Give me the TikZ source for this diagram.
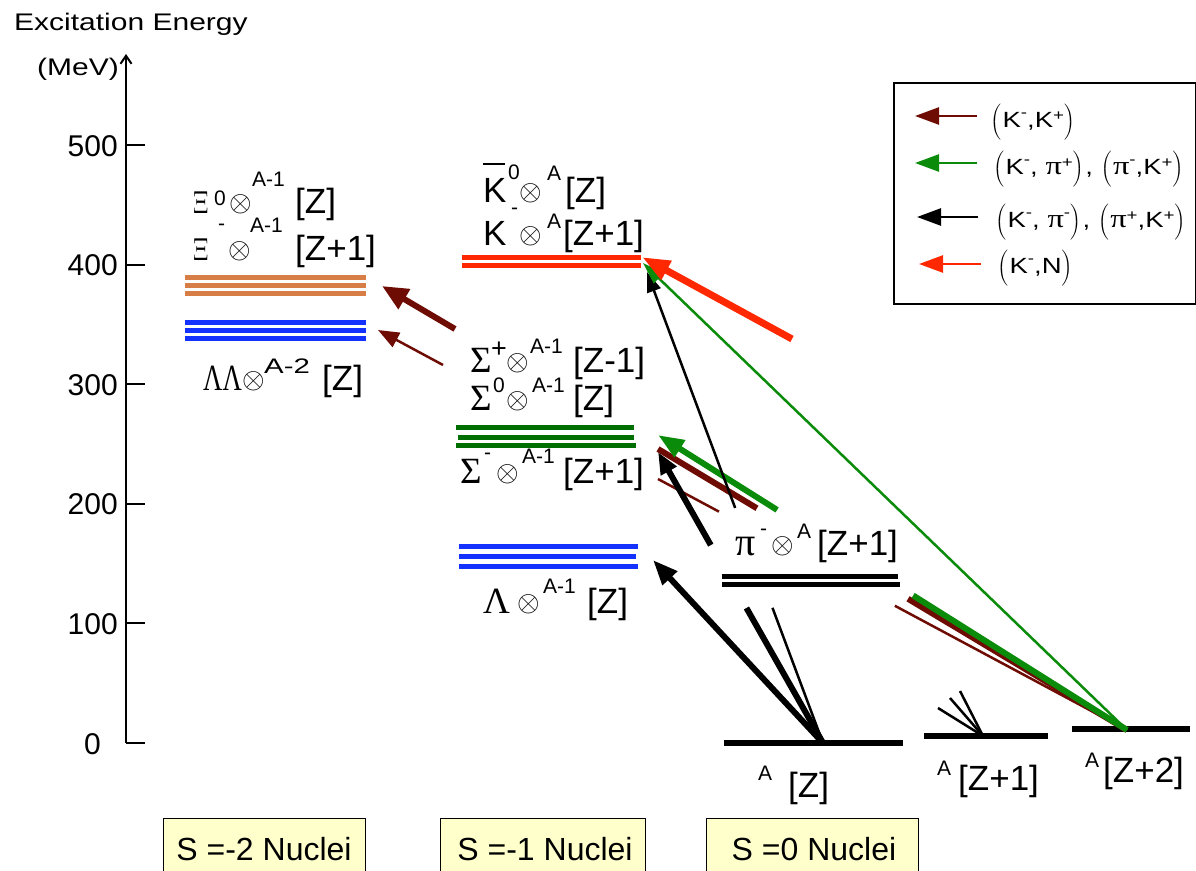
\documentclass[tikz,border=0pt]{standalone}
\usepackage{fontspec}
\usepackage{graphicx}
\setmainfont{Liberation Sans}
\newfontfamily\grf{Liberation Serif}
\usetikzlibrary{arrows.meta,calc}
\definecolor{brn}{RGB}{110,12,4}
\definecolor{grn}{RGB}{10,140,10}
\definecolor{dgrn}{RGB}{0,110,0}
\definecolor{rd}{RGB}{255,40,0}
\definecolor{orng}{RGB}{215,125,70}
\definecolor{blu}{RGB}{20,50,255}
\definecolor{boxy}{RGB}{255,255,204}
\newcommand\fs[1]{\fontsize{#1}{#1}\selectfont}
\newcommand\ox{\raisebox{2pt}{{\fs{10}\scalebox{2.9}{$\otimes$}}}}
\newcommand\sy[2]{\raisebox{#1pt}{\fs{21}#2}}
\newcommand\g[1]{{\grf\fs{37}#1}}
\newcommand\xig{{\fs{10}\scalebox{2.3}[3.2]{$\Xi$}}}
\newcommand\pc[2]{\rlap{\hspace*{#1pt}#2}}
\newcommand\ls[2]{\raisebox{#1pt}{\fs{15}#2}}
\newcommand\lp{$\left(\vrule height 25pt depth 11pt width 0pt\right.$}
\newcommand\rp{$\left)\vrule height 25pt depth 11pt width 0pt\right.$}
\newcommand\gp{{\grf\fs{26}π}}
\begin{document}
\begin{tikzpicture}[x=1pt,y=-1pt,
  lab/.style={inner sep=0pt,anchor=base west,font=\fs{35}},
  ticklab/.style={inner sep=0pt,anchor=base east,font=\fs{30}},
  leg/.style={inner sep=0pt,anchor=base west,font=\fs{22}},
  lvl/.style={line width=5pt},
  gnd/.style={line width=6pt},
  thk/.style={line width=6pt},
  thn/.style={line width=2.5pt},
  legtip/.style={line width=2.5pt,-{Triangle[length=24pt,width=17pt]}},
  nbox/.style={draw=black,line width=1.2pt,fill=boxy,inner sep=0pt,anchor=north west},
  boxtxt/.style={inner sep=0pt,anchor=base,font=\fs{32}}
]
\useasboundingbox (0,0) rectangle (1196,870);

% axis
\node[inner sep=0pt,anchor=base west] (ttl) at (14,30) {\scalebox{1.25}[1]{\fs{24}Excitation Energy}};
\node[inner sep=0pt,anchor=base west] (mev) at (37,75) {\scalebox{1.25}[1]{\fs{24}(MeV)}};
\coordinate (ax0) at (126,743);
\coordinate (axt) at (126,54);
\draw[line width=2pt,-{Straight Barb[length=8pt,width=11pt]}] (ax0) -- (axt);
\foreach \v/\yy in {100/623.4,200/503.8,300/384.2,400/264.6,500/145}{
  \draw[line width=2pt] (126,\yy) -- (145,\yy);
  \node[ticklab] (t\v) at (118,\yy+11) {\v};
}
\draw[line width=2pt] (126,743) -- (145,743);
\node[ticklab] (t0) at (101,754) {0};

% S=-2 levels
\foreach \yy in {277,285,293}{\draw[lvl,orng] (185,\yy) -- (366,\yy);}
\foreach \yy in {322,330,338}{\draw[lvl,blu] (185,\yy) -- (366,\yy);}
\node[lab] (xi0) at (193,213) {\pc{0}{\xig}\pc{21}{\sy{8}{0}}\pc{36}{\ox}\pc{59}{\sy{27}{A-1}}\hspace*{102pt}[Z]};
\node[lab] (xim) at (193,260) {\pc{0}{\xig}\pc{25}{\sy{30}{-}}\pc{35}{\ox}\pc{57}{\sy{28}{A-1}}\hspace*{102pt}[Z+1]};
\node[lab] (ll) at (203,390) {\pc{0}{\scalebox{0.72}[1]{\g{ΛΛ}}}\pc{39}{\ox}\pc{61}{\sy{17}{\scalebox{1.4}[1]{A-2}}}\hspace*{119pt}[Z]};

% S=-1 levels
\draw[lvl,rd] (462,257) -- (641,257);
\draw[lvl,rd] (462,265) -- (641,265);
\draw[lvl,dgrn] (456,427) -- (634,427);
\draw[lvl,dgrn] (458,437) -- (634,437);
\draw[lvl,dgrn] (456,445) -- (636,445);
\draw[lvl,blu] (459,546) -- (638,546);
\draw[lvl,blu] (459,556) -- (636,556);
\draw[lvl,blu] (459,566) -- (638,566);
\node[lab] (kb) at (483,202) {\pc{0}{\rule[37pt]{22pt}{2pt}}\pc{0}{K}\pc{25}{\sy{23}{0}}\pc{36}{\ox}\pc{64}{\sy{22}{A}}\hspace*{82pt}[Z]};
\node[lab] (km) at (483,245) {\pc{0}{K}\pc{28}{\sy{31}{-}}\pc{36}{\ox}\pc{64}{\sy{17}{A}}\hspace*{80pt}[Z+1]};
\node[lab] (sp) at (470,372) {\pc{0}{\g{Σ}}\pc{21}{\sy{15}{\fs{27}+}}\pc{36}{\ox}\pc{60}{\sy{19}{A-1}}\hspace*{103pt}[Z-1]};
\node[lab] (s0) at (470,410) {\pc{0}{\g{Σ}}\pc{23}{\sy{18}{0}}\pc{36}{\ox}\pc{62}{\sy{18}{A-1}}\hspace*{103pt}[Z]};
\node[lab] (sm) at (460,483) {\pc{0}{\g{Σ}}\pc{24}{\sy{24}{-}}\pc{36}{\ox}\pc{62}{\sy{20}{A-1}}\hspace*{103pt}[Z+1]};
\node[lab] (lam) at (483,613) {\pc{0}{\g{Λ}}\pc{34}{\ox}\pc{60}{\sy{20}{A-1}}\hspace*{104pt}[Z]};

% S=0 levels
\draw[lvl] (722,576) -- (898,576);
\draw[lvl] (722,584) -- (900,584);
\node[lab] (pim) at (735,555) {\pc{0}{\grf\fs{40}π}\pc{25}{\sy{20}{-}}\pc{36}{\ox}\pc{62}{\sy{17}{A}}\hspace*{82pt}[Z+1]};
\draw[gnd] (724,743) -- (903,743);
\draw[gnd] (924,736) -- (1048,736);
\draw[gnd] (1072,729) -- (1190,729);
\node[lab] (az) at (758,797) {\pc{0}{\sy{17}{A}}\hspace*{30pt}[Z]};
\node[lab] (az1) at (937,790) {\pc{0}{\sy{15}{A}}\hspace*{21pt}[Z+1]};
\node[lab] (az2) at (1085,782) {\pc{0}{\sy{15}{A}}\hspace*{18pt}[Z+2]};

% anchor points
\coordinate (gZ) at (823,743);
\coordinate (gZ1) at (983,736);
\coordinate (gZ2) at (1127,730);
\coordinate (tXi) at (382,286);
\coordinate (sXi) at (455,329);
\coordinate (tLL) at (378,330);
\coordinate (sLL) at (443,365);
\coordinate (tKr) at (642,257);
\coordinate (sKr) at (792,339);
\coordinate (tKg) at (643,263);
\coordinate (tKk) at (647,272);
\coordinate (tSg) at (658,435);
\coordinate (tSb) at (658,449);
\coordinate (tSt) at (658,479);
\coordinate (tSk) at (658,452);
\coordinate (tLk) at (653,560);
\coordinate (f1) at (938,708);
\coordinate (f2) at (950,698);
\coordinate (f3) at (960,691);

% left brown arrows
\draw[thk,brn,-{Triangle[length=26pt,width=22pt]}] (sXi) -- (tXi);
\draw[thn,brn,-{Triangle[length=21pt,width=16pt]}] (sLL) -- (tLL);

% brown lines to Sigma
\draw[thn,brn] (gZ2) -- ($(gZ2)!0.495!(tSt)$);
\draw[thn,brn] ($(gZ2)!0.87!(tSt)$) -- (tSt);
\draw[thk,brn] (gZ2) -- ($(gZ2)!0.467!(tSb)$);
\draw[thk,brn] ($(gZ2)!0.789!(tSb)$) -- (tSb);
% green thick to Sigma
\draw[thk,grn] (gZ2) -- ($(gZ2)!0.456!(tSg)$);
\draw[thk,grn,-{Triangle[length=26pt,width=19pt]}] ($(gZ2)!0.746!(tSg)$) -- (tSg);
% black from A[Z]
\draw[thn] (gZ) -- ($(gZ)!0.287!(tKk)$);
\draw[thn,-{Triangle[length=20pt,width=14pt]}] ($(gZ)!0.499!(tKk)$) -- (tKk);
\draw[thk] (gZ) -- ($(gZ)!0.464!(tSk)$);
\draw[thk,-{Triangle[length=22pt,width=17pt]}] ($(gZ)!0.68!(tSk)$) -- (tSk);
\draw[thk,-{Triangle[length=25pt,width=19pt]}] (gZ) -- (tLk);
% green thin to K
\draw[thn,grn,-{Triangle[length=22pt,width=14pt]}] (gZ2) -- (tKg);
% red thick to K
\draw[line width=7pt,rd,-{Triangle[length=28pt,width=20pt]}] (sKr) -- (tKr);
% fan at A[Z+1]
\draw[thn] (gZ1) -- (f1);
\draw[thn] (gZ1) -- (f2);
\draw[thn] (gZ1) -- (f3);

% legend
\node[draw=black,line width=2pt,inner sep=0pt,minimum width=302pt,minimum height=221pt,anchor=north west] (legbox) at (893,82) {};
\coordinate (l1a) at (977,116); \coordinate (l1b) at (915,116);
\coordinate (l2a) at (977,163); \coordinate (l2b) at (915,163);
\coordinate (l3a) at (978,217); \coordinate (l3b) at (917,217);
\coordinate (l4a) at (981,264); \coordinate (l4b) at (919,264);
\draw[legtip,brn] (l1a) -- (l1b);
\draw[legtip,grn] (l2a) -- (l2b);
\draw[legtip,black] (l3a) -- (l3b);
\draw[legtip,rd] (l4a) -- (l4b);
\node[leg] (lt1) at (990,127) {\scalebox{1.25}[1]{\lp K\ls{10}{-},K\ls{7}{+}\rp}};
\node[leg] (lt2) at (993,174) {\scalebox{1.25}[1]{\lp K\ls{10}{-}, \gp\ls{7}{+}\rp, \lp\gp\ls{10}{-},K\ls{7}{+}\rp}};
\node[leg] (lt3) at (995,227) {\scalebox{1.25}[1]{\lp K\ls{10}{-}, \gp\ls{10}{-}\rp, \lp\gp\ls{7}{+},K\ls{7}{+}\rp}};
\node[leg] (lt4) at (997,273) {\scalebox{1.25}[1]{\lp K\ls{10}{-},N\rp}};

% bottom boxes
\node[nbox,minimum width=202pt,minimum height=70pt] (b1) at (163,818) {};
\node[nbox,minimum width=205pt,minimum height=70pt] (b2) at (440,818) {};
\node[nbox,minimum width=212pt,minimum height=70pt] (b3) at (706,818) {};
\node[boxtxt] (bt1) at (264,860) {S =-2 Nuclei};
\node[boxtxt] (bt2) at (545,860) {S =-1 Nuclei};
\node[boxtxt] (bt3) at (814,860) {S =0 Nuclei};
\end{tikzpicture}
\end{document}
